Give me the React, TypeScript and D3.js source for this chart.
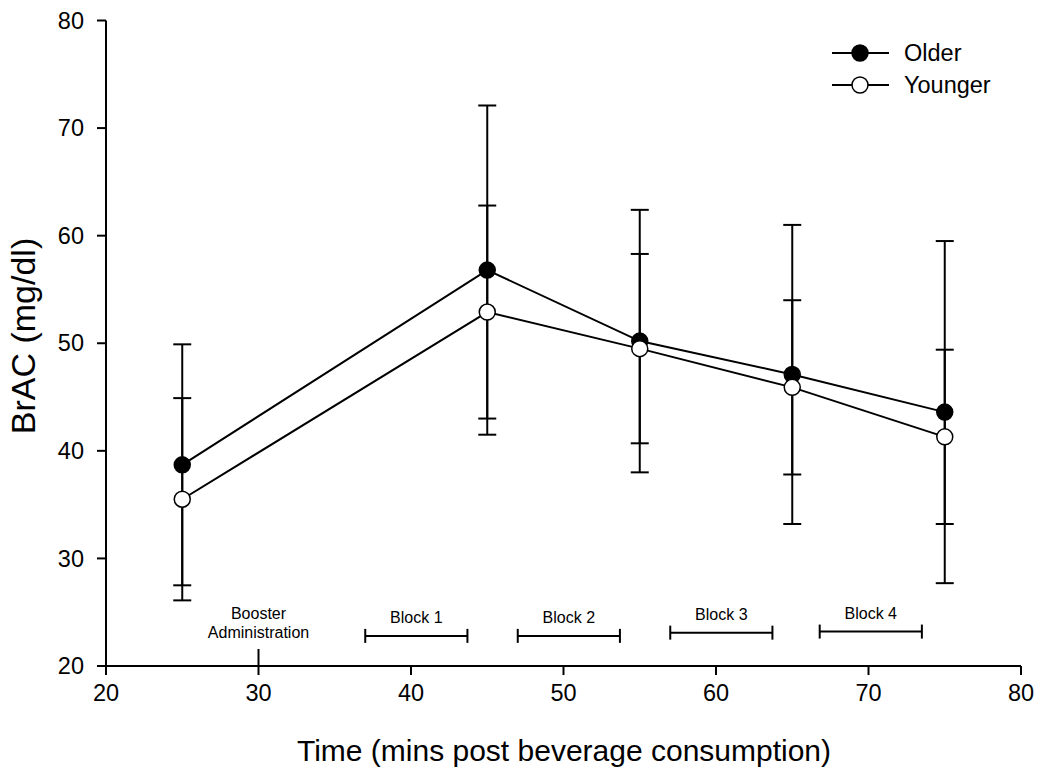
import React from "react";
import * as d3 from "d3";

const times = [25, 45, 55, 65, 75];
const olderMean = [38.7, 56.8, 50.2, 47.1, 43.6];
const olderErr = [11.2, 15.3, 12.2, 13.9, 15.9];
const youngerMean = [35.5, 52.9, 49.5, 45.9, 41.3];
const youngerErr = [9.4, 9.9, 8.8, 8.1, 8.1];
const xTicks = [20, 30, 40, 50, 60, 70, 80];
const yTicks = [20, 30, 40, 50, 60, 70, 80];
const blockLabels = ["Block 1", "Block 2", "Block 3", "Block 4"];
const blockStart = [37.0, 47.0, 57.0, 66.8];
const blockEnd = [43.7, 53.7, 63.7, 73.5];
const blockLevel = [22.8, 22.8, 23.1, 23.2];
const boosterTime = 30;

const W = 1050;
const H = 779;
const FONT = "'Liberation Sans', Arial, sans-serif";

export default function App() {
  const x = d3.scaleLinear().domain([20, 80]).range([106, 1021]);
  const y = d3.scaleLinear().domain([20, 80]).range([666, 20.5]);
  const line = d3
    .line<number>()
    .x((_, i) => x(times[i]))
    .y((d) => y(d));
  const cap = 9;
  const r = 8;

  const errBars = (means: number[], errs: number[], key: string) =>
    means.map((m, i) => {
      const cx = x(times[i]);
      const hi = y(m + errs[i]);
      const lo = y(m - errs[i]);
      return (
        <g key={key + i} stroke="#000" strokeWidth={2}>
          <line x1={cx} x2={cx} y1={hi} y2={lo} />
          <line x1={cx - cap} x2={cx + cap} y1={hi} y2={hi} />
          <line x1={cx - cap} x2={cx + cap} y1={lo} y2={lo} />
        </g>
      );
    });

  return (
    <svg width={W} height={H} style={{ position: "absolute", left: 0, top: 0, background: "#fff" }} fontFamily={FONT}>
      <rect width={W} height={H} fill="#fff" />
      {/* axes */}
      <line x1={106} x2={106} y1={20.5} y2={666} stroke="#000" strokeWidth={2} />
      <line x1={106} x2={1021} y1={666} y2={666} stroke="#000" strokeWidth={2} />
      {yTicks.map((t) => (
        <g key={"y" + t}>
          <line x1={97} x2={106} y1={y(t)} y2={y(t)} stroke="#000" strokeWidth={2} />
          <text x={84} y={y(t)} dy="0.35em" textAnchor="end" fontSize={23.5} fill="#000">
            {t}
          </text>
        </g>
      ))}
      {xTicks.map((t) => (
        <g key={"x" + t}>
          <line x1={x(t)} x2={x(t)} y1={666} y2={675} stroke="#000" strokeWidth={2} />
          <text x={x(t)} y={701} textAnchor="middle" fontSize={23.5} fill="#000">
            {t}
          </text>
        </g>
      ))}
      <text x={564} y={761} textAnchor="middle" fontSize={30} fill="#000">
        Time (mins post beverage consumption)
      </text>
      <text
        transform={`translate(35,336) rotate(-90)`}
        textAnchor="middle"
        fontSize={34}
        fill="#000"
      >
        BrAC (mg/dl)
      </text>

      {/* annotations */}
      <line x1={x(boosterTime)} x2={x(boosterTime)} y1={649} y2={666} stroke="#000" strokeWidth={2} />
      <text x={x(boosterTime)} y={619} textAnchor="middle" fontSize={16} fill="#000">
        Booster
      </text>
      <text x={x(boosterTime)} y={638} textAnchor="middle" fontSize={16} fill="#000">
        Administration
      </text>
      {blockLabels.map((b, i) => {
        const x1 = x(blockStart[i]);
        const x2 = x(blockEnd[i]);
        const yy = y(blockLevel[i]);
        return (
          <g key={b}>
            <line x1={x1} x2={x2} y1={yy} y2={yy} stroke="#000" strokeWidth={2} />
            <line x1={x1} x2={x1} y1={yy - 7} y2={yy + 7} stroke="#000" strokeWidth={2} />
            <line x1={x2} x2={x2} y1={yy - 7} y2={yy + 7} stroke="#000" strokeWidth={2} />
            <text x={(x1 + x2) / 2} y={yy - 12.5} textAnchor="middle" fontSize={16} fill="#000">
              {b}
            </text>
          </g>
        );
      })}

      {/* error bars */}
      {errBars(olderMean, olderErr, "o")}
      {errBars(youngerMean, youngerErr, "yg")}

      {/* lines */}
      <path d={line(olderMean) || ""} fill="none" stroke="#000" strokeWidth={2} />
      <path d={line(youngerMean) || ""} fill="none" stroke="#000" strokeWidth={2} />

      {/* markers */}
      {olderMean.map((m, i) => (
        <circle key={"om" + i} cx={x(times[i])} cy={y(m)} r={r} fill="#000" stroke="#000" strokeWidth={1.5} />
      ))}
      {youngerMean.map((m, i) => (
        <circle key={"ym" + i} cx={x(times[i])} cy={y(m)} r={r} fill="#fff" stroke="#000" strokeWidth={1.5} />
      ))}

      {/* legend */}
      <g>
        <line x1={832} x2={889} y1={53} y2={53} stroke="#000" strokeWidth={2} />
        <circle cx={860} cy={53} r={r} fill="#000" stroke="#000" strokeWidth={1.5} />
        <text x={904} y={53} dy="0.35em" fontSize={23.5} fill="#000">
          Older
        </text>
        <line x1={832} x2={889} y1={85} y2={85} stroke="#000" strokeWidth={2} />
        <circle cx={860} cy={85} r={r} fill="#fff" stroke="#000" strokeWidth={1.5} />
        <text x={904} y={85} dy="0.35em" fontSize={23.5} fill="#000">
          Younger
        </text>
      </g>
    </svg>
  );
}
